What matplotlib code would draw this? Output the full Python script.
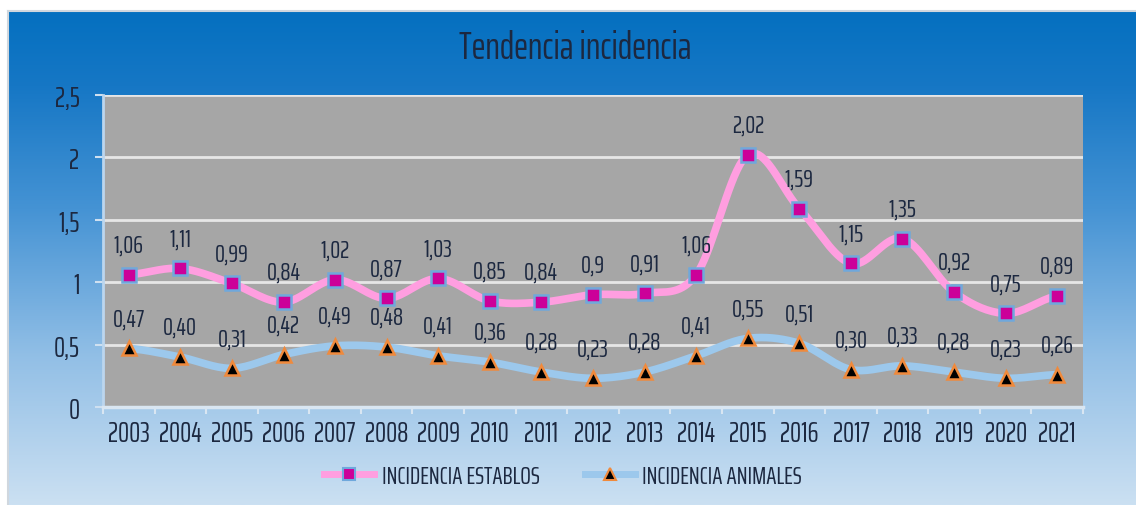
import numpy as np
import matplotlib
matplotlib.use("Agg")
import matplotlib.pyplot as plt
from matplotlib.colors import LinearSegmentedColormap
from matplotlib.lines import Line2D

years = ["2003", "2004", "2005", "2006", "2007", "2008", "2009", "2010", "2011", "2012",
         "2013", "2014", "2015", "2016", "2017", "2018", "2019", "2020", "2021"]
establos = [1.06, 1.11, 0.99, 0.84, 1.02, 0.87, 1.03, 0.85, 0.84, 0.90,
            0.91, 1.06, 2.02, 1.59, 1.15, 1.35, 0.92, 0.75, 0.89]
animales = [0.47, 0.40, 0.31, 0.42, 0.49, 0.48, 0.41, 0.36, 0.28, 0.23,
            0.28, 0.41, 0.55, 0.51, 0.30, 0.33, 0.28, 0.23, 0.26]
y_ticks = [0, 0.5, 1, 1.5, 2, 2.5]
y_tick_labels = ["0", "0.5", "1", "1.5", "2", "2.5"]
title = "Tendencia incidencia"
names = ["INCIDENCIA ESTABLOS", "INCIDENCIA ANIMALES"]

FONT = ["Saira ExtraCondensed", "Roboto Condensed", "DejaVu Sans"]
plt.rcParams['font.family'] = FONT
TXT = "#1c2840"

W, H, DPI = 1136, 506, 100
fig = plt.figure(figsize=(W / DPI, H / DPI), dpi=DPI)
fig.patch.set_facecolor("white")

# background gradient panel
bg = fig.add_axes([8 / W, 0, 1 - 8 / W, (H - 12) / H])
cmap = LinearSegmentedColormap.from_list("bg", [(0, "#0470c0"), (0.15, "#1677c5"),
                                                 (0.4, "#4593d4"), (0.7, "#92bfe6"),
                                                 (1, "#cbe0f2")])
grad = np.linspace(0, 1, 256).reshape(-1, 1)
bg.imshow(grad, aspect="auto", cmap=cmap, extent=[0, 1, 0, 1], origin="upper")
bg.set_xlim(0, 1); bg.set_ylim(0, 1)
bg.axis("off")
fig.add_artist(Line2D([8 / W, 1], [(H - 12) / H] * 2, color="#d0d7de", lw=1.5))
fig.add_artist(Line2D([8 / W, 8 / W], [0, (H - 12) / H], color="#d0d7de", lw=1.5))

# plot area
x0, x1 = 103, 1083
yt, yb = 96, 408
ax = fig.add_axes([x0 / W, 1 - yb / H, (x1 - x0) / W, (yb - yt) / H])
ax.set_facecolor("#a6a6a6")
n = len(years)
x = np.arange(n)
ax.set_xlim(-0.5, n - 0.5)
ax.set_ylim(0, 2.5)


def smooth(xs, ys, steps=20):
    xs = np.asarray(xs, float); ys = np.asarray(ys, float)
    px = np.concatenate([[2 * xs[0] - xs[1]], xs, [2 * xs[-1] - xs[-2]]])
    py = np.concatenate([[ys[0]], ys, [ys[-1]]])
    ox, oy = [], []
    for i in range(1, len(px) - 2):
        p0x, p1x, p2x, p3x = px[i - 1:i + 3]
        p0y, p1y, p2y, p3y = py[i - 1:i + 3]
        c1x = p1x + (p2x - p0x) / 6; c1y = p1y + (p2y - p0y) / 6
        c2x = p2x - (p3x - p1x) / 6; c2y = p2y - (p3y - p1y) / 6
        t = np.linspace(0, 1, steps)
        bx = (1 - t) ** 3 * p1x + 3 * (1 - t) ** 2 * t * c1x + 3 * (1 - t) * t ** 2 * c2x + t ** 3 * p2x
        by = (1 - t) ** 3 * p1y + 3 * (1 - t) ** 2 * t * c1y + 3 * (1 - t) * t ** 2 * c2y + t ** 3 * p2y
        ox.append(bx); oy.append(by)
    return np.concatenate(ox), np.concatenate(oy)


for s in ["top", "right"]:
    ax.spines[s].set_visible(False)
ax.spines["left"].set_color("#bcd6ee"); ax.spines["left"].set_linewidth(2)
ax.spines["bottom"].set_color("#d9e6f2"); ax.spines["bottom"].set_linewidth(2.5)

ax.set_yticks(y_ticks)
ax.set_yticklabels([l.replace(".", ",") for l in y_tick_labels])
ax.yaxis.grid(True, color="#e6e6e6", lw=2)
ax.set_axisbelow(True)
ax.tick_params(axis="y", length=6, width=1.5, color="#cfe0f0", labelsize=20,
               labelcolor=TXT, pad=11)
ax.set_xticks(x)
ax.set_xticklabels(years)
ax.tick_params(axis="x", length=0, labelsize=20, labelcolor=TXT, pad=9)
ax.set_xticks(np.arange(-0.5, n, 1), minor=True)
ax.tick_params(axis="x", which="minor", length=5, width=1.5, color="#d9e6f2")

sx, sy = smooth(x, establos)
ax.plot(sx, sy, color="#ff9ee0", lw=5.5, solid_capstyle="round", zorder=3)
ax.plot(x, establos, ls="none", marker="s", ms=10, mfc="#cc0099", mec="#6fa8dc",
        mew=1.8, zorder=4)
sx, sy = smooth(x, animales)
ax.plot(sx, sy, color="#9cc8ec", lw=5.5, solid_capstyle="round", zorder=3)
ax.plot(x, animales, ls="none", marker="^", ms=10, mfc="black", mec="#f08a3c",
        mew=1.8, zorder=4)

for xi, v in zip(x, establos):
    ax.annotate(f"{v:g}".replace(".", ","), (xi, v), xytext=(0, 13),
                textcoords="offset points", ha="center", va="bottom",
                fontsize=18, color=TXT)
for xi, v in zip(x, animales):
    ax.annotate(f"{v:.2f}".replace(".", ","), (xi, v), xytext=(0, 13),
                textcoords="offset points", ha="center", va="bottom",
                fontsize=18, color=TXT)

fig.text(575 / W, 1 - 48 / H, title, ha="center", va="center", fontsize=27, color=TXT)

h1 = Line2D([], [], color="#ff9ee0", lw=5, marker="s", ms=9, mfc="#cc0099",
            mec="#6fa8dc", mew=1.5)
h2 = Line2D([], [], color="#9cc8ec", lw=5, marker="^", ms=9, mfc="black",
            mec="#f08a3c", mew=1.5)
leg = fig.legend([h1, h2], names, loc="center", bbox_to_anchor=(563 / W, 1 - 477 / H),
                 ncol=2, frameon=False, fontsize=18, handlelength=2.0, columnspacing=1.8,
                 handletextpad=0.3)
for t in leg.get_texts():
    t.set_color(TXT)

fig.savefig("out.png", dpi=DPI)
